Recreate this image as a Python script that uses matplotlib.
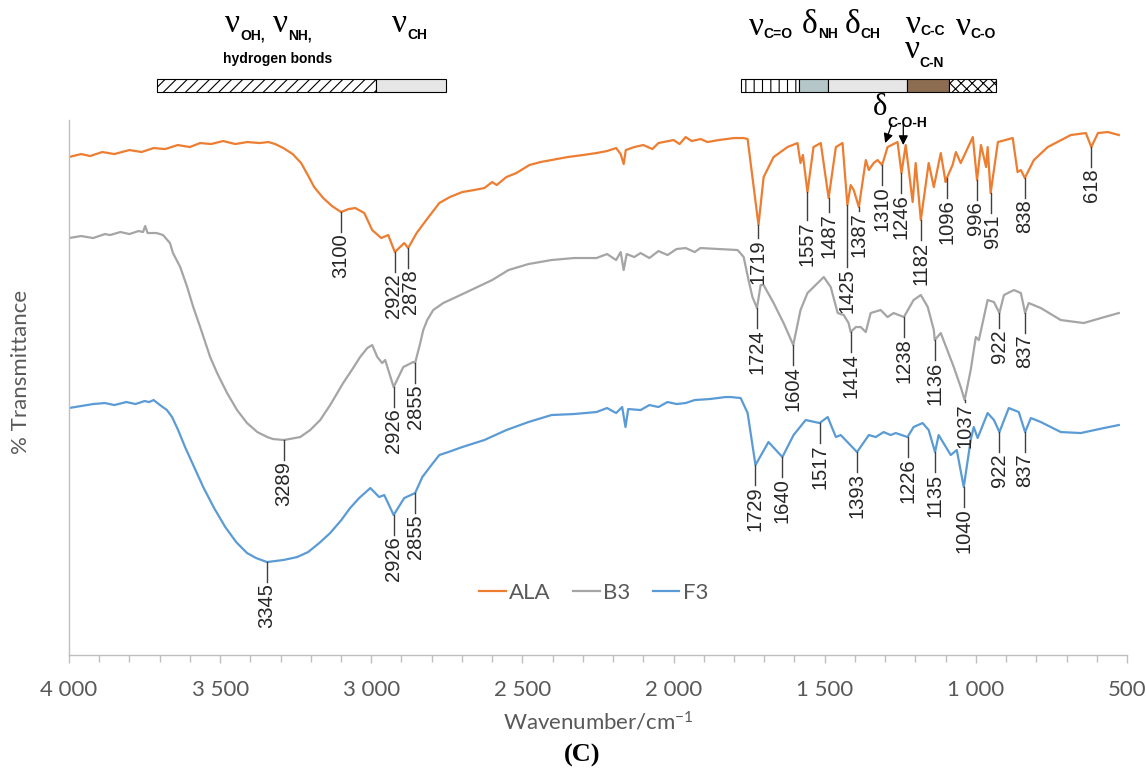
import numpy as np
import matplotlib
matplotlib.use("Agg")
import matplotlib.pyplot as plt
from matplotlib.patches import Rectangle
from matplotlib.ticker import MultipleLocator, FuncFormatter

plt.rcParams['font.family'] = ['Lato', 'DejaVu Sans']
plt.rcParams['mathtext.fontset'] = 'custom'
plt.rcParams['mathtext.rm'] = 'Lato'
plt.rcParams['mathtext.it'] = 'Lato:italic'
plt.rcParams['mathtext.bf'] = 'Lato:bold'
plt.rcParams['hatch.linewidth'] = 0.8

# spectra: wavenumber (cm-1) and transmittance (arbitrary, offset traces)
ala_wn = [4000, 3960, 3930, 3890, 3850, 3800, 3760, 3720, 3682, 3640, 3600, 3566, 3530, 3490,
          3450, 3410, 3370, 3340, 3318, 3291, 3260, 3232, 3210, 3189, 3159, 3130, 3100, 3075,
          3053, 3035, 3023, 2997, 2967, 2944, 2935, 2922, 2905, 2891, 2878, 2850, 2818, 2795,
          2775, 2740, 2699, 2660, 2626, 2600, 2585, 2553, 2520, 2477, 2440, 2404, 2350, 2300,
          2255, 2220, 2190, 2175, 2165, 2158, 2130, 2100, 2070, 2050, 2033, 2000, 1980, 1960,
          1940, 1910, 1888, 1850, 1800, 1768, 1755, 1739, 1719, 1702, 1669, 1623, 1590, 1580,
          1572, 1557, 1537, 1513, 1487, 1463, 1441, 1425, 1414, 1404, 1387, 1364, 1354, 1338,
          1325, 1310, 1292, 1259, 1246, 1232, 1209, 1199, 1182, 1156, 1139, 1116, 1100, 1096,
          1077, 1066, 1050, 1010, 996, 983, 966, 961, 951, 927, 878, 862, 851, 838, 808, 762,
          686, 636, 618, 596, 563, 527]
ala_t = [99.6, 100.2, 99.8, 100.6, 100.2, 101.0, 100.6, 101.4, 101.2, 102.0, 101.6, 102.4, 102.2, 102.8,
         102.2, 102.6, 102.4, 102.6, 102.2, 101.4, 100.2, 98.4, 96.0, 93.6, 91.4, 89.8, 88.6, 89.2,
         89.4, 88.8, 88.4, 85.0, 83.4, 84.0, 82.6, 80.6, 81.6, 82.4, 81.4, 84.4, 87.0, 88.8,
         90.4, 91.6, 92.6, 93.0, 93.4, 94.6, 94.0, 95.6, 96.4, 98.0, 98.6, 99.0, 99.6, 100.0,
         100.4, 100.8, 101.4, 100.2, 98.2, 101.0, 101.6, 102.0, 101.2, 102.4, 102.6, 103.0, 102.2, 103.6,
         102.8, 103.2, 102.6, 103.0, 103.4, 103.4, 103.2, 95.6, 86.0, 95.6, 99.6, 101.6, 102.4, 98.4,
         100.0, 92.6, 101.6, 102.4, 91.4, 101.6, 102.4, 90.0, 94.0, 93.0, 89.6, 99.0, 97.0, 98.4,
         99.0, 98.0, 101.6, 102.6, 96.4, 102.0, 90.6, 98.4, 87.0, 98.4, 93.6, 100.4, 94.6, 95.4,
         98.0, 100.6, 98.4, 103.6, 95.0, 102.0, 97.6, 101.6, 92.4, 102.6, 103.4, 96.6, 97.0, 95.4, 99.0, 101.6,
         104.0, 104.4, 101.6, 104.4, 104.6, 104.0]

b3_wn = [4000, 3960, 3920, 3881, 3864, 3830, 3800, 3770, 3755, 3748, 3740, 3710, 3689, 3666,
         3656, 3632, 3609, 3589, 3566, 3533, 3510, 3477, 3444, 3411, 3377, 3344, 3325, 3289,
         3235, 3202, 3169, 3136, 3093, 3060, 3037, 3013, 2997, 2980, 2964, 2954, 2926, 2894,
         2861, 2855, 2838, 2828, 2815, 2795, 2762, 2705, 2649, 2600, 2546, 2480, 2404, 2330,
         2255, 2220, 2190, 2175, 2165, 2155, 2130, 2109, 2080, 2050, 2020, 1990, 1960, 1930,
         1911, 1850, 1788, 1768, 1752, 1739, 1724, 1712, 1702, 1669, 1636, 1604, 1580, 1557,
         1503, 1480, 1457, 1437, 1421, 1414, 1397, 1381, 1364, 1348, 1315, 1292, 1272, 1238,
         1206, 1182, 1159, 1139, 1136, 1116, 1073, 1050, 1037, 1017, 1000, 990, 961, 940,
         922, 907, 874, 851, 837, 825, 785, 719, 643, 586, 527]
b3_t = [83.4, 83.8, 83.4, 84.2, 84.0, 84.6, 84.2, 84.8, 84.6, 85.8, 84.4, 84.4, 84.0, 82.4,
        80.4, 77.6, 73.6, 69.6, 65.6, 59.6, 56.4, 52.4, 49.0, 46.4, 44.6, 43.6, 43.2, 43.0,
        43.6, 45.0, 47.0, 50.0, 54.4, 57.4, 59.6, 61.4, 62.0, 59.6, 58.4, 59.0, 53.6, 57.6,
        58.6, 58.4, 62.4, 65.0, 67.0, 69.0, 70.4, 72.0, 73.6, 75.0, 77.0, 78.2, 79.0, 79.4,
        79.4, 80.2, 79.0, 80.6, 77.0, 80.2, 79.6, 80.4, 79.4, 80.8, 80.0, 81.2, 81.4, 80.6,
        81.4, 81.2, 81.0, 79.6, 75.0, 71.6, 69.4, 74.0, 74.0, 70.4, 66.4, 62.0, 69.0, 72.4,
        75.6, 73.6, 68.4, 68.0, 66.4, 64.6, 65.6, 65.6, 64.6, 68.4, 69.0, 67.6, 68.4, 67.6,
        71.0, 72.0, 69.6, 65.0, 63.0, 64.4, 57.6, 53.6, 51.0, 57.0, 63.6, 63.0, 71.0, 70.6,
        68.4, 72.0, 73.0, 72.4, 68.4, 70.4, 69.4, 67.0, 66.4, 67.4, 68.4]

f3_wn = [4000, 3960, 3920, 3881, 3850, 3810, 3780, 3750, 3735, 3720, 3699, 3676, 3659, 3639,
         3616, 3586, 3556, 3520, 3483, 3447, 3411, 3381, 3345, 3291, 3245, 3209, 3172, 3136,
         3099, 3070, 3040, 3003, 2974, 2957, 2926, 2891, 2855, 2831, 2801, 2775, 2745, 2699,
         2626, 2553, 2480, 2404, 2330, 2255, 2220, 2190, 2170, 2159, 2150, 2109, 2080, 2050,
         2020, 1990, 1960, 1930, 1880, 1828, 1811, 1778, 1755, 1729, 1686, 1640, 1603, 1563,
         1517, 1490, 1463, 1447, 1393, 1354, 1331, 1305, 1282, 1265, 1226, 1206, 1176, 1156,
         1135, 1123, 1083, 1063, 1040, 1017, 1007, 994, 961, 940, 922, 891, 858, 837,
         818, 785, 719, 653, 576, 527]
f3_t = [49.4, 49.8, 50.2, 50.4, 50.0, 50.6, 50.2, 50.8, 50.6, 51.0, 50.0, 49.0, 47.6, 45.0,
        41.6, 37.6, 33.6, 29.4, 25.6, 22.6, 20.4, 19.4, 18.6, 19.0, 19.6, 20.6, 22.4, 24.4,
        27.0, 29.4, 31.4, 33.4, 31.6, 32.0, 28.0, 31.4, 32.4, 35.6, 38.0, 40.0, 40.6, 41.6,
        43.0, 45.0, 46.6, 48.0, 48.2, 48.6, 49.4, 48.4, 49.6, 45.6, 49.2, 49.0, 50.0, 49.6,
        50.6, 50.2, 50.4, 51.0, 51.2, 51.6, 51.6, 51.4, 48.4, 38.0, 42.6, 39.6, 44.0, 47.0,
        46.4, 47.6, 43.6, 44.0, 40.6, 44.0, 43.6, 44.6, 44.0, 44.4, 43.6, 45.6, 46.4, 45.0,
        40.6, 44.0, 40.0, 41.0, 33.6, 43.0, 45.6, 43.4, 48.4, 47.0, 44.6, 49.4, 48.6, 44.6,
        47.4, 46.6, 44.6, 44.4, 45.4, 46.0]

# band assignments above the spectra: (from, to, hatch, face)
bands = [(3709, 2984, '///', 'white'), (2984, 2752, None, '#e6e6e6'),
         (1778, 1586, '||', 'white'), (1586, 1490, None, '#b4c6c8'),
         (1490, 1229, None, '#e6e6e6'), (1229, 1090, None, '#8c6d52'),
         (1090, 934, 'xxx', 'white')]

# labelled peaks per trace
ala_peaks = [3100, 2922, 2878, 1719, 1557, 1487, 1425, 1387, 1310, 1246, 1182, 1096, 996, 951, 838, 618]
b3_peaks = [3289, 2926, 2855, 1724, 1604, 1414, 1238, 1136, 1037, 922, 837]
f3_peaks = [3345, 2926, 2855, 1729, 1640, 1517, 1393, 1226, 1135, 1040, 922, 837]

# leader line length (y units) where it is not the default
drops = {('ALA', 1425): 12.4, ('ALA', 1387): 0.8, ('ALA', 1557): 5.6, ('ALA', 1719): 2.6,
         ('ALA', 1487): 2.8, ('B3', 1037): 0.4, ('B3', 922): 3.0}
# small sideways nudges (cm-1) for labels that crowd each other
nudges = {('ALA', 2922): 6, ('ALA', 2878): -7, ('ALA', 996): 5, ('ALA', 951): -5}

colors = {'ALA': '#ED7D31', 'B3': '#A5A5A5', 'F3': '#5B9BD5'}
grey_txt = '#595959'
lbl_col = '#404040'

fig = plt.figure(figsize=(11.46, 7.69), dpi=100)
ax = fig.add_axes([0.0602, 0.1482, 0.9232, 0.6957])

series = [('ALA', ala_wn, ala_t, ala_peaks), ('B3', b3_wn, b3_t, b3_peaks), ('F3', f3_wn, f3_t, f3_peaks)]
for name, wn, t, peaks in series:
    ax.plot(wn, t, color=colors[name], lw=1.6, label=name, solid_joinstyle='round')
    for p in peaks:
        y = np.interp(p, wn[::-1], t[::-1])
        d = drops.get((name, p), 4.0)
        ax.plot([p, p], [y, y - d], color=lbl_col, lw=1.0, zorder=4)
        ax.text(p + nudges.get((name, p), 0), y - d - 0.3, str(p), rotation=90, ha='center', va='top',
                fontsize=14.5, family='Liberation Sans', color='#262626', zorder=5)

ax.set_xlim(4000, 500)
ax.set_ylim(0, 107)
ax.xaxis.set_major_locator(MultipleLocator(500))
ax.xaxis.set_minor_locator(MultipleLocator(100))
ax.xaxis.set_major_formatter(FuncFormatter(lambda v, pos: f'{int(v):,}'.replace(',', ' ')))
ax.tick_params(axis='x', which='major', length=6, width=1, color='#bfbfbf',
               labelcolor=grey_txt, labelsize=16, pad=12)
ax.tick_params(axis='x', which='minor', length=5, width=1, color='#bfbfbf')
ax.set_yticks([])
for s in ['top', 'right']:
    ax.spines[s].set_visible(False)
for s in ['left', 'bottom']:
    ax.spines[s].set_color('#bfbfbf')
    ax.spines[s].set_linewidth(1.0)

# assignment bands
for x0, x1, hatch, face in bands:
    ax.add_patch(Rectangle((x1, 112.6), x0 - x1, 2.6, facecolor=face, edgecolor='black',
                           hatch=hatch, lw=0.8, clip_on=False, zorder=3))


def band_label(x, y, letter, sub, sub_y, size=24):
    ax.text(x, y, letter, ha='right', va='baseline', fontsize=size,
            family='Liberation Serif', color='black', clip_on=False)
    ax.text(x, sub_y, sub, ha='left', va='baseline', fontsize=10,
            family='Liberation Sans', weight='bold', color='black', clip_on=False)


band_label(3434, 124.6, 'ν', 'OH,', 123.2)
band_label(3275, 124.6, 'ν', 'NH,', 123.2)
ax.text(3311, 118.4, 'hydrogen bonds', ha='center', va='baseline', fontsize=10,
        family='Liberation Sans', weight='bold', clip_on=False)
band_label(2881, 124.6, 'ν', 'CH', 123.2)
band_label(1702, 124.0, 'ν', 'C=O', 123.4)
band_label(1523, 124.4, 'δ', 'NH', 123.4)
band_label(1381, 124.4, 'δ', 'CH', 123.4)
band_label(1182, 124.4, 'ν', 'C-C', 124.0)
band_label(1186, 119.4, 'ν', 'C-N', 117.6)
band_label(1017, 124.0, 'ν', 'C-O', 123.4)
band_label(1292, 108.0, 'δ', 'C-O-H', 105.6, size=22)

arrow = dict(arrowstyle='-|>', color='black', lw=0.9, mutation_scale=14, shrinkA=0, shrinkB=0)
ax.annotate('', xy=(1300, 102.4), xytext=(1278, 106.2), arrowprops=arrow, annotation_clip=False)
ax.annotate('', xy=(1240, 102.0), xytext=(1240, 106.2), arrowprops=arrow, annotation_clip=False)

ax.legend(loc='center', bbox_to_anchor=(0.496, 0.116), ncol=3, frameon=False,
          handlelength=1.2, handletextpad=0.15, columnspacing=1.0,
          prop={'family': 'Lato', 'size': 16}, labelcolor=grey_txt)

fig.text(598 / 1146, 1 - 722 / 769, 'Wavenumber/cm$^{\\mathregular{-1}}$', ha='center', va='center',
         fontsize=16, color=grey_txt)
fig.text(582 / 1146, 1 - 755 / 769, '(C)', ha='center', va='center', fontsize=19,
         family='Liberation Serif', weight='bold', color='black')
fig.text(21 / 1146, 1 - 372 / 769, '% Transmittance', rotation=90, ha='center', va='center',
         fontsize=16, color=grey_txt)

fig.savefig('out.png', dpi=100)
